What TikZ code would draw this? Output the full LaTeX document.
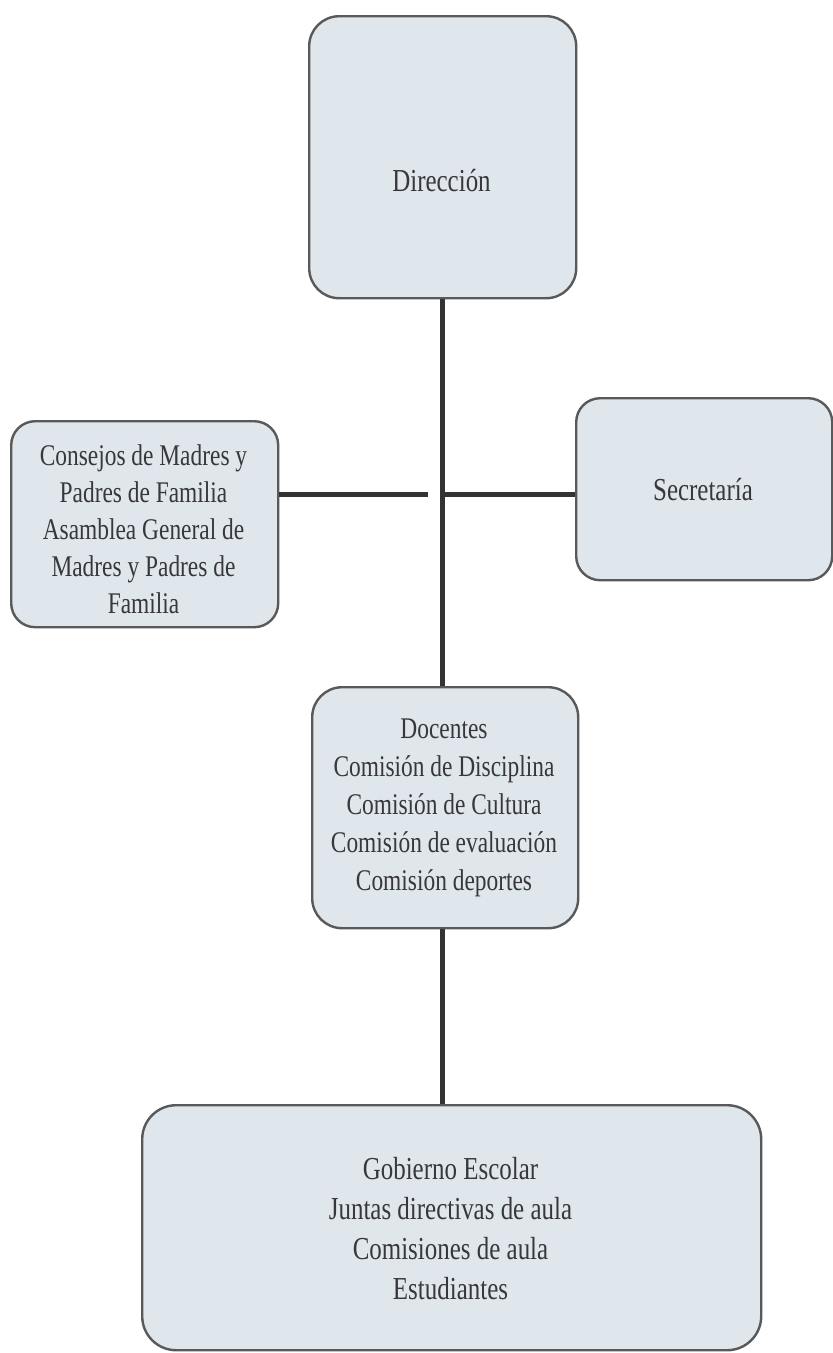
\documentclass[tikz,border=0pt]{standalone}
\usepackage{fontspec}
\setmainfont{Liberation Serif}[FakeStretch=0.78]
\begin{document}
\begin{tikzpicture}[x=1pt,y=-1pt,
  box/.style={draw=black!65, line width=2.4pt, fill=boxfill, rounded corners=#1, inner sep=0pt, anchor=north west},
  box/.default=28pt,
  txt/.style={text=txtcol, align=center, inner sep=0pt, font=\fontsize{30}{37}\selectfont},
  bigtxt/.style={text=txtcol, align=center, inner sep=0pt, font=\fontsize{32}{40}\selectfont},
  conn/.style={draw=black!80, line width=5pt}]
\definecolor{boxfill}{RGB}{224,231,236}
\definecolor{txtcol}{RGB}{55,55,60}
\useasboundingbox (0,0) rectangle (833,1353);
\fill[white] (0,0) rectangle (833,1353);
% boxes
\node[box=30pt, minimum width=267pt, minimum height=282pt] (dir) at (308,15) {};
\node[bigtxt] (dirt) at (441.5,181) {Dirección};
\node[box=24pt, minimum width=267pt, minimum height=206pt] (cons) at (10,420) {};
\node[txt] (const) at (143.5,529) {Consejos de Madres y\\Padres de Familia\\Asamblea General de\\Madres y Padres de\\Familia};
\node[box=24pt, minimum width=256pt, minimum height=182pt] (sec) at (575,397) {};
\node[bigtxt] (sect) at (703,490) {Secretaría};
\node[box=30pt, minimum width=266pt, minimum height=241pt] (doc) at (311,686) {};
\node[txt, font=\fontsize{30}{38}\selectfont] (doct) at (444,808) {Docentes\\Comisión de Disciplina\\Comisión de Cultura\\Comisión de evaluación\\Comisión deportes};
\node[box=34pt, minimum width=619pt, minimum height=245pt] (gob) at (141,1104) {};
\node[bigtxt] (gobt) at (450.5,1229) {Gobierno Escolar\\Juntas directivas de aula\\Comisiones de aula\\Estudiantes};
% connectors
\coordinate (hl) at (428,494);
\coordinate (hr) at (444,494);
\draw[conn] (dir.south -| 442,0) -- (doc.north -| 442,0);
\draw[conn] (doc.south -| 442,0) -- (gob.north -| 442,0);
\draw[conn] (hl) -- (hl -| cons.east);
\draw[conn] (hr) -- (hr -| sec.west);
\end{tikzpicture}
\end{document}
